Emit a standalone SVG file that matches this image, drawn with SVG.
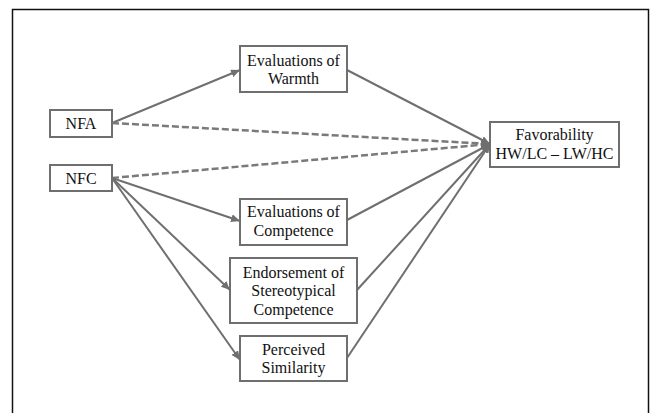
<svg xmlns="http://www.w3.org/2000/svg" width="658" height="413" viewBox="0 0 658 413">
<style>
.box{fill:#fff;stroke:#6f6f6f;stroke-width:2}
.t{font-family:'Liberation Serif','Times New Roman',serif;font-size:16px;fill:#111;text-anchor:middle}
.c{stroke:#6f6f6f;stroke-width:2;fill:none}
.d{stroke:#7a7a7a;stroke-width:2.5;fill:none;stroke-dasharray:7 3}
</style>
<defs>
<marker id="ah" markerUnits="userSpaceOnUse" markerWidth="10" markerHeight="8" refX="9" refY="4" orient="auto">
<path d="M0,0 L9,4 L0,8 Z" fill="#6f6f6f"/>
</marker>
</defs>
<rect x="12.5" y="9.5" width="636" height="420" fill="none" stroke="#111" stroke-width="1.5"/>
<g id="connectors">
<line class="c" x1="112" y1="123" x2="240" y2="70" marker-end="url(#ah)"/>
<line class="c" x1="347" y1="70" x2="490" y2="144" marker-end="url(#ah)"/>
<line class="d" x1="112" y1="123" x2="490" y2="144" marker-end="url(#ah)"/>
<line class="d" x1="112" y1="178" x2="490" y2="144" marker-end="url(#ah)"/>
<line class="c" x1="112" y1="178" x2="240" y2="221" marker-end="url(#ah)"/>
<line class="c" x1="112" y1="178" x2="230" y2="290" marker-end="url(#ah)"/>
<line class="c" x1="112" y1="178" x2="240" y2="360" marker-end="url(#ah)"/>
<line class="c" x1="347" y1="220" x2="490" y2="144" marker-end="url(#ah)"/>
<line class="c" x1="357" y1="290" x2="490" y2="144" marker-end="url(#ah)"/>
<line class="c" x1="347" y1="358" x2="490" y2="144" marker-end="url(#ah)"/>
</g>
<g id="warmth">
<rect class="box" x="240" y="46" width="107" height="46"/>
<text class="t" x="293.5" y="65.5">Evaluations of</text>
<text class="t" x="293.5" y="83.5">Warmth</text>
</g>
<g id="nfa">
<rect class="box" x="50" y="110" width="62" height="27"/>
<text class="t" x="81" y="129">NFA</text>
</g>
<g id="nfc">
<rect class="box" x="50" y="165" width="62" height="26"/>
<text class="t" x="81" y="183.5">NFC</text>
</g>
<g id="favorability">
<rect class="box" x="490" y="122" width="129" height="45"/>
<text class="t" x="554.5" y="140">Favorability</text>
<text class="t" x="554.5" y="159">HW/LC – LW/HC</text>
</g>
<g id="competence">
<rect class="box" x="240" y="199" width="107" height="46"/>
<text class="t" x="293.5" y="217">Evaluations of</text>
<text class="t" x="293.5" y="235.5">Competence</text>
</g>
<g id="endorsement">
<rect class="box" x="230" y="258" width="127" height="65"/>
<text class="t" x="293.5" y="277.5">Endorsement of</text>
<text class="t" x="293.5" y="296">Stereotypical</text>
<text class="t" x="293.5" y="314.5">Competence</text>
</g>
<g id="similarity">
<rect class="box" x="240" y="336" width="107" height="45"/>
<text class="t" x="293.5" y="354.5">Perceived</text>
<text class="t" x="293.5" y="373">Similarity</text>
</g>
</svg>
